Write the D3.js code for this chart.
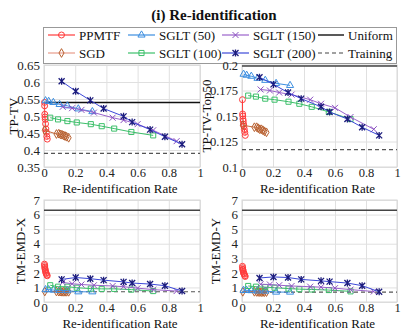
<!DOCTYPE html>
<html>
<head>
<meta charset="utf-8">
<script src="https://cdn.jsdelivr.net/npm/d3@7"></script>
<style>
  body { margin: 0; background: #fff; }
</style>
</head>
<body>
<svg id="chart" width="407" height="336" font-family="Liberation Serif, Times New Roman, serif"></svg>
<script>
// re-identification rates (x) per method
var ppmtfRate = [0.003, 0.004, 0.005, 0.006, 0.008, 0.010, 0.012, 0.015, 0.018, 0.021];
var sgdRate = [0.005, 0.08, 0.095, 0.105, 0.115, 0.125, 0.135, 0.145, 0.158];
var sglt50Rate = [0.01, 0.03, 0.06, 0.10, 0.15, 0.22, 0.31];
var sglt100Rate = [0.04, 0.09, 0.15, 0.21, 0.30, 0.37, 0.45, 0.56, 0.70];
var sglt150Rate = [0.12, 0.18, 0.24, 0.32, 0.44, 0.51, 0.60, 0.70, 0.85];
var sglt200Rate = [0.113, 0.203, 0.297, 0.382, 0.51, 0.565, 0.68, 0.775, 0.885];

// TP-TV
var ppmtfTPTV = [0.540, 0.530, 0.505, 0.497, 0.490, 0.477, 0.462, 0.452, 0.440, 0.432];
var sgdTPTV = [0.458, 0.447, 0.448, 0.446, 0.445, 0.443, 0.441, 0.439, 0.436];
var sglt50TPTV = [0.545, 0.543, 0.540, 0.534, 0.530, 0.521, 0.513];
var sglt100TPTV = [0.495, 0.490, 0.485, 0.481, 0.476, 0.470, 0.463, 0.453, 0.443];
var sglt150TPTV = [0.527, 0.523, 0.518, 0.510, 0.495, 0.488, 0.476, 0.458, 0.426];
var sglt200TPTV = [0.602, 0.573, 0.546, 0.522, 0.499, 0.482, 0.460, 0.439, 0.417];

// TP-TV-Top50
var ppmtfTop50 = [0.166, 0.152, 0.150, 0.147, 0.145, 0.142, 0.140, 0.137, 0.134, 0.131];
var sgdTop50 = [0.141, 0.139, 0.139, 0.138, 0.137, 0.137, 0.136, 0.135, 0.134];
var sglt50Top50 = [0.191, 0.190, 0.189, 0.187, 0.185, 0.182, 0.180];
var sglt100Top50 = [0.170, 0.169, 0.167, 0.166, 0.164, 0.162, 0.159, 0.154, 0.147];
var sglt150Top50 = [0.176, 0.175, 0.173, 0.171, 0.166, 0.162, 0.158, 0.149, 0.137];
var sglt200Top50 = [0.188, 0.181, 0.173, 0.167, 0.159, 0.154, 0.147, 0.139, 0.131];

// TM-EMD-X
var ppmtfEmdX = [2.6, 2.5, 2.4, 2.3, 2.2, 2.1, 2.0, 1.95, 1.85, 1.8];
var sgdEmdX = [0.72, 0.72, 0.71, 0.71, 0.7, 0.7, 0.7, 0.7, 0.7];
var sglt50EmdX = [0.85, 0.85, 0.82, 0.8, 0.78, 0.7, 0.7];
var sglt100EmdX = [1.15, 1.05, 1.05, 0.98, 0.92, 0.9, 0.9, 0.85, 0.75];
var sglt150EmdX = [1.35, 1.25, 1.2, 1.15, 1.1, 1.05, 0.95, 0.85, 0.75];
var sglt200EmdX = [1.55, 1.68, 1.6, 1.5, 1.38, 1.3, 1.23, 1.12, 0.75];

// TM-EMD-Y
var ppmtfEmdY = [2.45, 2.35, 2.25, 2.2, 2.1, 2.0, 1.95, 1.9, 1.8, 1.75];
var sgdEmdY = [0.7, 0.7, 0.69, 0.69, 0.68, 0.68, 0.68, 0.68, 0.68];
var sglt50EmdY = [0.8, 0.8, 0.78, 0.76, 0.75, 0.68, 0.68];
var sglt100EmdY = [1.1, 1.05, 1.02, 0.98, 0.92, 0.88, 0.86, 0.82, 0.73];
var sglt150EmdY = [1.22, 1.2, 1.15, 1.1, 1.05, 1.02, 0.95, 0.85, 0.72];
var sglt200EmdY = [1.65, 1.72, 1.68, 1.55, 1.45, 1.4, 1.3, 1.12, 0.7];

// reference lines
var uniformVals = [0.54, 0.199, 6.3, 6.3];
var trainingVals = [0.39, 0.117, 0.7, 0.68];

var xTicks = [0, 0.2, 0.4, 0.6, 0.8, 1];
var yTicksTPTV = [0.35, 0.4, 0.45, 0.5, 0.55, 0.6, 0.65];
var yTicksTop50 = [0.1, 0.125, 0.15, 0.175, 0.2];
var yTicksEmd = [0, 1, 2, 3, 4, 5, 6, 7];

var seriesNames = ["PPMTF", "SGD", "SGLT (50)", "SGLT (100)", "SGLT (150)", "SGLT (200)"];
var rates = [ppmtfRate, sgdRate, sglt50Rate, sglt100Rate, sglt150Rate, sglt200Rate];

var FONT = "'Liberation Serif', 'Times New Roman', serif";

var styles = [
    { line: "#ff3b3b", mark: "#ff3b3b", shape: "circle" },
    { line: "#c86a3c", mark: "#b8602f", shape: "diamond" },
    { line: "#3c8ee0", mark: "#3c8ee0", shape: "triangle" },
    { line: "#3cbf6a", mark: "#3cbf6a", shape: "square" },
    { line: "#9a62cc", mark: "#8a50c0", shape: "cross" },
    { line: "#3c48d8", mark: "#1c1c7c", shape: "star" }
];

// ytx = centre of the rotated y title, tickFs = y tick label size
var panels = [
    { label: "TP-TV", x0: 44, x1: 200, y0: 65, y1: 167, domain: [0.35, 0.65], ticks: yTicksTPTV,
      vals: [ppmtfTPTV, sgdTPTV, sglt50TPTV, sglt100TPTV, sglt150TPTV, sglt200TPTV], ytx: 13, tickFs: 13 },
    { label: "TP-TV-Top50", x0: 242, x1: 397, y0: 65, y1: 167, domain: [0.1, 0.2], ticks: yTicksTop50,
      vals: [ppmtfTop50, sgdTop50, sglt50Top50, sglt100Top50, sglt150Top50, sglt200Top50], ytx: 206, tickFs: 12.5 },
    { label: "TM-EMD-X", x0: 44, x1: 200, y0: 200, y1: 302, domain: [0, 7], ticks: yTicksEmd,
      vals: [ppmtfEmdX, sgdEmdX, sglt50EmdX, sglt100EmdX, sglt150EmdX, sglt200EmdX], ytx: 20, tickFs: 13 },
    { label: "TM-EMD-Y", x0: 242, x1: 397, y0: 200, y1: 302, domain: [0, 7], ticks: yTicksEmd,
      vals: [ppmtfEmdY, sgdEmdY, sglt50EmdY, sglt100EmdY, sglt150EmdY, sglt200EmdY], ytx: 215, tickFs: 13 }
];

var svg = d3.select("#chart");

function addText(g, x, y, s, size) {
    return g.append("text").attr("x", x).attr("y", y)
        .style("font-family", FONT).style("font-size", size + "px").attr("fill", "#111").text(s);
}

// marker paths
function markerPath(shape) {
    if (shape === "circle") return d3.symbol().type(d3.symbolCircle).size(28)();
    if (shape === "diamond") return d3.symbol().type(d3.symbolDiamond).size(22)();
    if (shape === "triangle") return d3.symbol().type(d3.symbolTriangle).size(22)();
    if (shape === "square") return d3.symbol().type(d3.symbolSquare).size(26)();
    if (shape === "cross") return "M-3,-3L3,3M-3,3L3,-3";
    return "M-3,-3L3,3M-3,3L3,-3M0,-3.5L0,3.5";
}

function drawMarker(g, shape, color, x, y) {
    g.append("path")
        .attr("transform", "translate(" + x + "," + y + ")")
        .attr("d", markerPath(shape))
        .attr("fill", "none")
        .attr("stroke", color)
        .attr("stroke-width", shape === "star" ? 1.3 : 1);
}

// title
addText(svg, 214, 20, "(i) Re-identification", 15)
    .attr("text-anchor", "middle").style("font-weight", "bold");

// legend
var lg = svg.append("g");
lg.append("rect").attr("x", 43.5).attr("y", 27.5).attr("width", 353).attr("height", 36)
    .attr("fill", "#fff").attr("stroke", "#999");
var legendPos = [
    [48, 35], [48, 53], [128, 35], [128, 53], [222, 35], [222, 53]
];
seriesNames.forEach(function (name, i) {
    var p = legendPos[i];
    lg.append("line").attr("x1", p[0]).attr("x2", p[0] + 27).attr("y1", p[1]).attr("y2", p[1])
        .attr("stroke", i === 1 ? "#e89a8a" : styles[i].line).attr("stroke-width", 1.2);
    drawMarker(lg, styles[i].shape, styles[i].mark, p[0] + 13.5, p[1]);
    addText(lg, p[0] + 31, p[1] + 4.5, name, 13);
});
lg.append("line").attr("x1", 318).attr("x2", 344).attr("y1", 35).attr("y2", 35)
    .attr("stroke", "#222").attr("stroke-width", 1.5);
addText(lg, 348, 39.5, "Uniform", 13);
lg.append("line").attr("x1", 318).attr("x2", 344).attr("y1", 53).attr("y2", 53)
    .attr("stroke", "#444").attr("stroke-width", 1.2).attr("stroke-dasharray", "4,3");
addText(lg, 348, 57.5, "Training", 13);

panels.forEach(function (p, pi) {
    var x = d3.scaleLinear().domain([0, 1]).range([p.x0, p.x1]);
    var y = d3.scaleLinear().domain(p.domain).range([p.y1, p.y0]);
    var g = svg.append("g");

    // grid
    g.append("g")
        .attr("transform", "translate(0," + p.y1 + ")")
        .call(d3.axisBottom(x).tickValues(xTicks).tickSize(-(p.y1 - p.y0)).tickFormat(""))
        .call(function (a) { a.select(".domain").remove(); a.selectAll("line").attr("stroke", "#e0e0e0"); });
    g.append("g")
        .attr("transform", "translate(" + p.x0 + ",0)")
        .call(d3.axisLeft(y).tickValues(p.ticks).tickSize(-(p.x1 - p.x0)).tickFormat(""))
        .call(function (a) { a.select(".domain").remove(); a.selectAll("line").attr("stroke", "#e0e0e0"); });
    g.append("rect").attr("x", p.x0).attr("y", p.y0).attr("width", p.x1 - p.x0).attr("height", p.y1 - p.y0)
        .attr("fill", "none").attr("stroke", "#d8d8d8");

    // tick labels
    g.append("g")
        .attr("transform", "translate(0," + p.y1 + ")")
        .call(d3.axisBottom(x).tickValues(xTicks).tickSize(0).tickPadding(1.5).tickFormat(function (d) { return d; }))
        .call(function (a) {
            a.attr("font-family", null).attr("font-size", null);
            a.select(".domain").remove();
            a.selectAll("text").style("font-size", "12.5px").attr("fill", "#222").style("font-family", FONT);
        });
    g.append("g")
        .attr("transform", "translate(" + p.x0 + ",0)")
        .call(d3.axisLeft(y).tickValues(p.ticks).tickSize(0).tickPadding(4).tickFormat(function (d) { return d; }))
        .call(function (a) {
            a.attr("font-family", null).attr("font-size", null);
            a.select(".domain").remove();
            a.selectAll("text").style("font-size", p.tickFs + "px").attr("fill", "#222").style("font-family", FONT);
        });

    // axis titles
    addText(g, (p.x0 + p.x1) / 2 - 2, p.y1 + 25.5, "Re-identification Rate", 13)
        .attr("text-anchor", "middle");
    addText(g, 0, 0, p.label, 13)
        .attr("transform", "translate(" + (p.ytx + 4.5) + "," + ((p.y0 + p.y1) / 2) + ") rotate(-90)")
        .attr("text-anchor", "middle");

    // reference lines
    g.append("line").attr("x1", p.x0).attr("x2", p.x1)
        .attr("y1", y(uniformVals[pi])).attr("y2", y(uniformVals[pi]))
        .attr("stroke", pi === 0 ? "#111" : "#444").attr("stroke-width", 1.5);
    g.append("line").attr("x1", p.x0).attr("x2", p.x1)
        .attr("y1", y(trainingVals[pi])).attr("y2", y(trainingVals[pi]))
        .attr("stroke", "#555").attr("stroke-width", 1.1).attr("stroke-dasharray", "4,3");

    // series
    var line = d3.line().x(function (d) { return x(d[0]); }).y(function (d) { return y(d[1]); });
    p.vals.forEach(function (vals, si) {
        var pts = vals.map(function (v, k) { return [rates[si][k], v]; });
        g.append("path").datum(pts)
            .attr("fill", "none").attr("stroke", styles[si].line).attr("stroke-width", 1)
            .attr("d", line);
        pts.forEach(function (d) {
            drawMarker(g, styles[si].shape, styles[si].mark, x(d[0]), y(d[1]));
        });
    });
});
</script>
</body>
</html>
